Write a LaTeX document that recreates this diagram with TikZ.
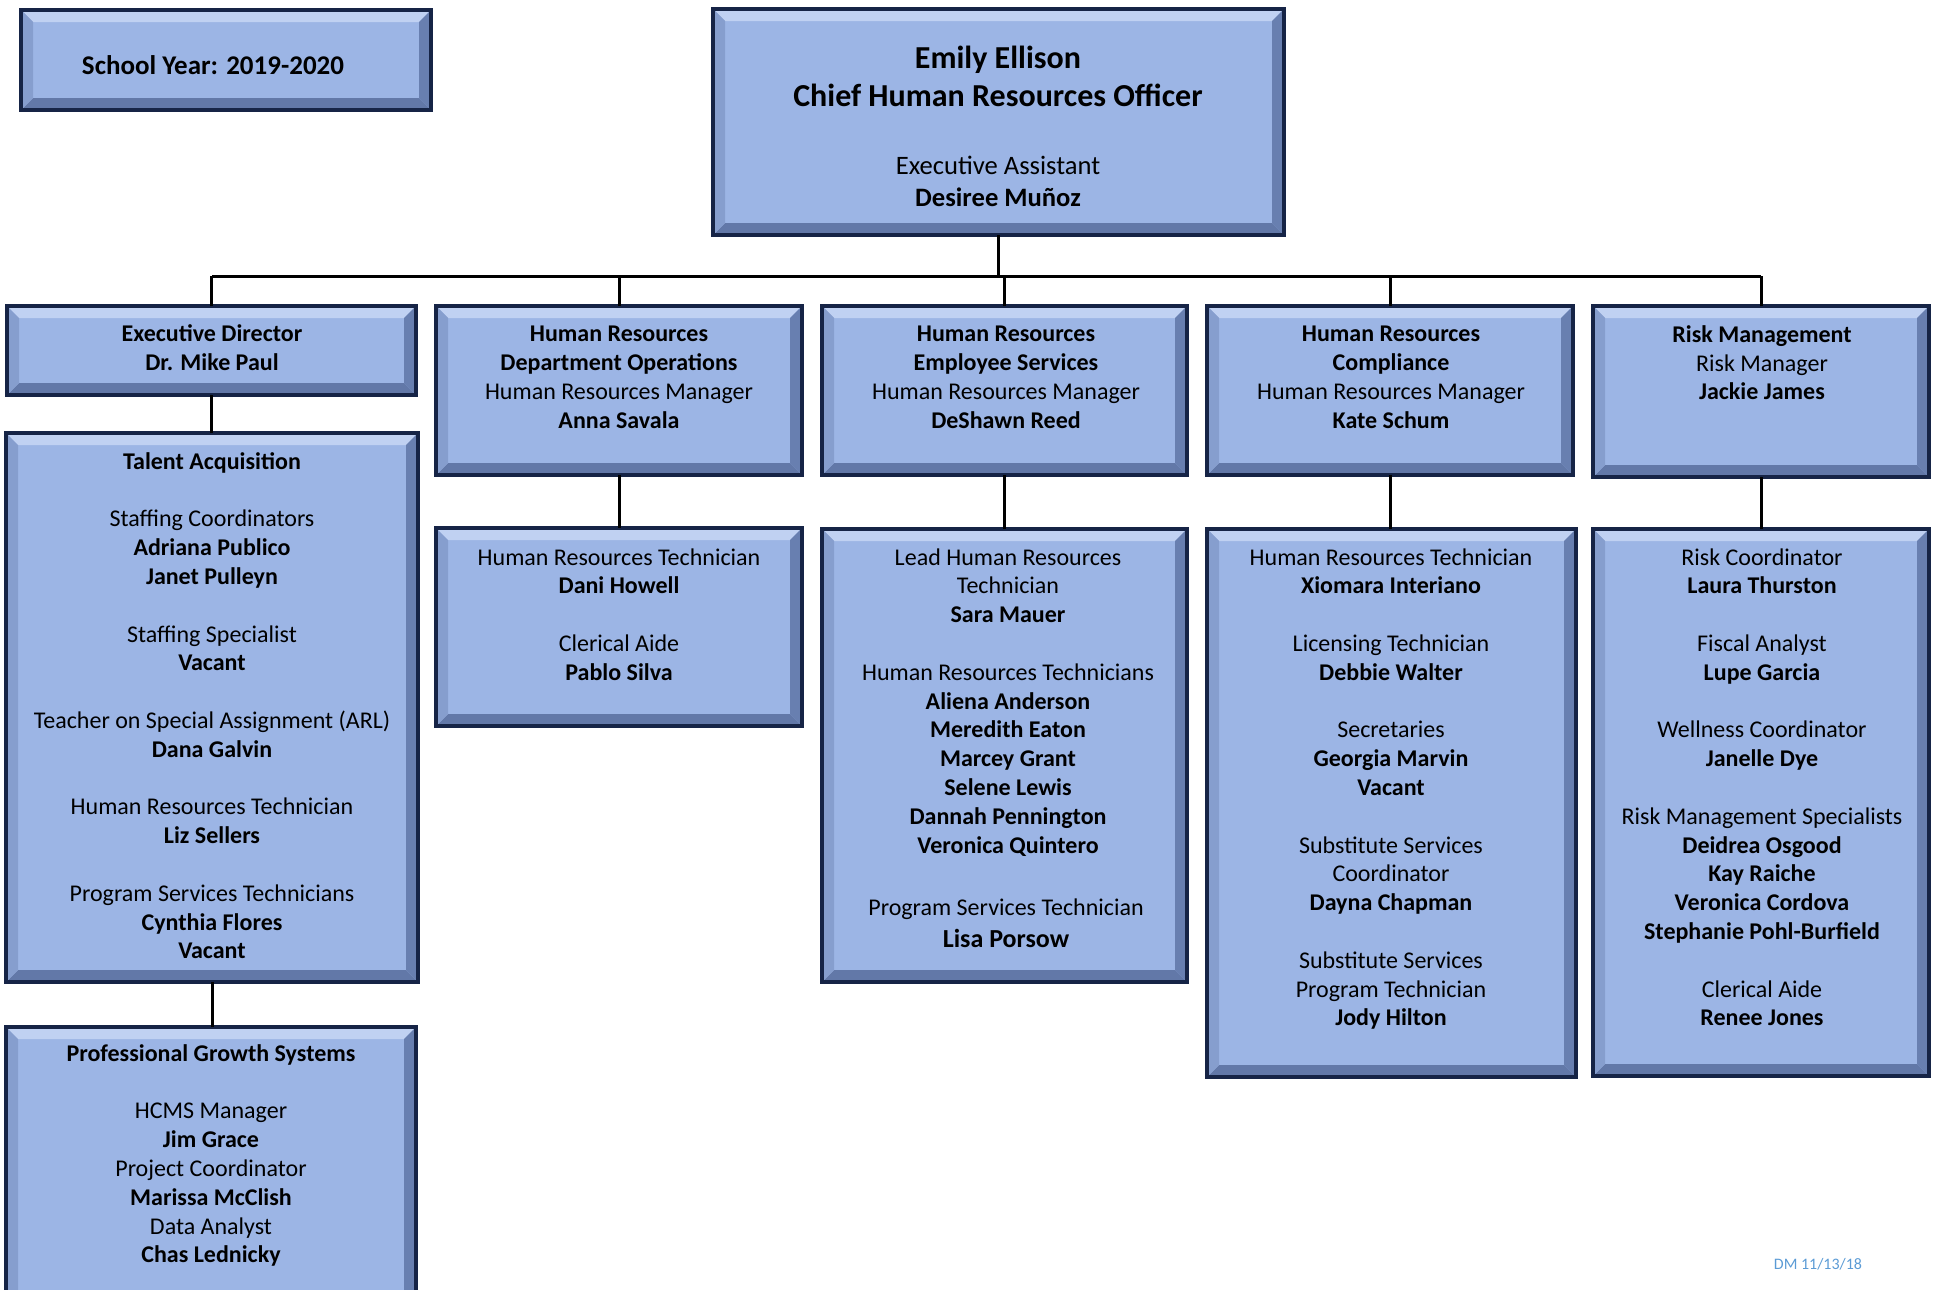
\documentclass[tikz,border=0pt]{standalone}
\usepackage{fontspec}
\setmainfont{Carlito}
\usetikzlibrary{fit}

\definecolor{boxfill}{RGB}{156,181,229}
\definecolor{boxline}{RGB}{22,36,70}
\definecolor{boxtop}{RGB}{192,209,242}
\definecolor{boxbot}{RGB}{98,120,168}
\definecolor{boxleft}{RGB}{134,158,206}
\definecolor{boxright}{RGB}{104,127,176}
\definecolor{datecol}{RGB}{91,155,213}

\tikzset{
  orgbox/.style={draw=boxline, line width=1.6pt, fill=boxfill, inner sep=0pt, outer sep=0pt,
    path picture={
      \coordinate (bvNW) at (path picture bounding box.north west);
      \coordinate (bvNE) at (path picture bounding box.north east);
      \coordinate (bvSW) at (path picture bounding box.south west);
      \coordinate (bvSE) at (path picture bounding box.south east);
      \fill[boxtop] (bvNW) -- (bvNE) -- ([shift={(-6pt,-6pt)}]bvNE) -- ([shift={(6pt,-6pt)}]bvNW) -- cycle;
      \fill[boxbot] (bvSW) -- (bvSE) -- ([shift={(-6pt,6pt)}]bvSE) -- ([shift={(6pt,6pt)}]bvSW) -- cycle;
      \fill[boxleft] (bvNW) -- ([shift={(6pt,-6pt)}]bvNW) -- ([shift={(6pt,6pt)}]bvSW) -- (bvSW) -- cycle;
      \fill[boxright] (bvNE) -- ([shift={(-6pt,-6pt)}]bvNE) -- ([shift={(-6pt,6pt)}]bvSE) -- (bvSE) -- cycle;
    }},
  txt/.style={font=\fontsize{12}{14.4}\selectfont, align=center, inner sep=0pt, anchor=north},
  conn/.style={line width=1.5pt, black}
}
\newcommand{\gap}{\\[14.4pt]}

\begin{document}
\begin{tikzpicture}[x=0.5pt, y=-0.5pt]
  \useasboundingbox (0,0) rectangle (1935,1290);

  %draw boxes
  \node[orgbox, fit={(21,10) (431,110)}] (year) {};
  \node[orgbox, fit={(713,9) (1284,235)}] (chro) {};
  \node[orgbox, fit={(7,306) (416,395)}] (exec) {};
  \node[orgbox, fit={(436,306) (802,475)}] (ops) {};
  \node[orgbox, fit={(822,306) (1187,475)}] (emp) {};
  \node[orgbox, fit={(1207,306) (1573,475)}] (comp) {};
  \node[orgbox, fit={(1593,306) (1929,477)}] (risk) {};
  \node[orgbox, fit={(6,433) (418,982)}] (talent) {};
  \node[orgbox, fit={(6,1027) (416,1310)}] (growth) {};
  \node[orgbox, fit={(436,528) (802,726)}] (dani) {};
  \node[orgbox, fit={(822,529) (1187,982)}] (lead) {};
  \node[orgbox, fit={(1207,529) (1576,1077)}] (xio) {};
  \node[orgbox, fit={(1593,529) (1929,1076)}] (riskc) {};

  %draw connectors
  \coordinate (busL) at (212,276);
  \coordinate (busR) at (1761,276);
  \draw[conn] (busL) -- (busR);
  \draw[conn] (chro.south) -- (chro.south |- busL);
  \foreach \b in {exec,ops,emp,comp,risk}
     \draw[conn] (\b.north) -- (\b.north |- busL);
  \foreach \a/\b in {exec/talent,talent/growth,ops/dani,emp/lead,comp/xio,risk/riskc}
     \draw[conn] (\a.south) -- (\a.south |- \b.north);

  %draw texts
  \node[txt, font=\fontsize{13.5}{16}\selectfont\bfseries] (yearT) at (213,55) {School Year: 2019-2020};
  \node[txt, font=\fontsize{16}{19}\selectfont\bfseries] (chroT) at (998,46) {Emily Ellison\\Chief Human Resources Officer};
  \node[txt, font=\fontsize{13.3}{16}\selectfont] (chroA) at (998,156) {Executive Assistant\\\textbf{Desiree Muñoz}};
  \node[txt] (execT) at (212,324) {\textbf{Executive Director}\\\textbf{Dr. Mike Paul}};
  \node[txt] (opsT) at (619,326) {\textbf{Human Resources}\\\textbf{Department Operations}\\Human Resources Manager\\\textbf{Anna Savala}};
  \node[txt] (empT) at (1006,326) {\textbf{Human Resources}\\\textbf{Employee Services}\\Human Resources Manager\\\textbf{DeShawn Reed}};
  \node[txt] (compT) at (1391,326) {\textbf{Human Resources}\\\textbf{Compliance}\\Human Resources Manager\\\textbf{Kate Schum}};
  \node[txt] (riskT) at (1762,325) {\textbf{Risk Management}\\Risk Manager\\\textbf{Jackie James}};
  \node[txt] (talentT) at (212,452) {\textbf{Talent Acquisition}\gap Staffing Coordinators\\\textbf{Adriana Publico}\\\textbf{Janet Pulleyn}\gap Staffing Specialist\\\textbf{Vacant}\gap Teacher on Special Assignment (ARL)\\\textbf{Dana Galvin}\gap Human Resources Technician\\\textbf{Liz Sellers}\gap Program Services Technicians\\\textbf{Cynthia Flores}\\\textbf{Vacant}};
  \node[txt] (growthT) at (211,1044) {\textbf{Professional Growth Systems}\gap HCMS Manager\\\textbf{Jim Grace}\\Project Coordinator\\\textbf{Marissa McClish}\\Data Analyst\\\textbf{Chas Lednicky}};
  \node[txt] (daniT) at (619,548) {Human Resources Technician\\\textbf{Dani Howell}\gap Clerical Aide\\\textbf{Pablo Silva}};
  \node[txt] (leadT) at (1008,548) {Lead Human Resources\\Technician\\\textbf{Sara Mauer}\gap Human Resources Technicians\\\textbf{Aliena Anderson}\\\textbf{Meredith Eaton}\\\textbf{Marcey Grant}\\\textbf{Selene Lewis}\\\textbf{Dannah Pennington}\\\textbf{Veronica Quintero}};
  \node[txt] (leadP) at (1006,898) {Program Services Technician\\[1.6pt]{\fontsize{13}{16}\selectfont\bfseries Lisa Porsow}};
  \node[txt] (xioT) at (1391,548) {Human Resources Technician\\\textbf{Xiomara Interiano}\gap Licensing Technician\\\textbf{Debbie Walter}\gap Secretaries\\\textbf{Georgia Marvin}\\\textbf{Vacant}\gap Substitute Services\\Coordinator\\\textbf{Dayna Chapman}\gap Substitute Services\\Program Technician\\\textbf{Jody Hilton}};
  \node[txt] (riskcT) at (1762,548) {Risk Coordinator\\\textbf{Laura Thurston}\gap Fiscal Analyst\\\textbf{Lupe Garcia}\gap Wellness Coordinator\\\textbf{Janelle Dye}\gap Risk Management Specialists\\\textbf{Deidrea Osgood}\\\textbf{Kay Raiche}\\\textbf{Veronica Cordova}\\\textbf{Stephanie Pohl-Burfield}\gap Clerical Aide\\\textbf{Renee Jones}};
  \node[font=\fontsize{8}{9.6}\selectfont, text=datecol, inner sep=0pt] (date) at (1818,1264) {DM 11/13/18};
\end{tikzpicture}
\end{document}
